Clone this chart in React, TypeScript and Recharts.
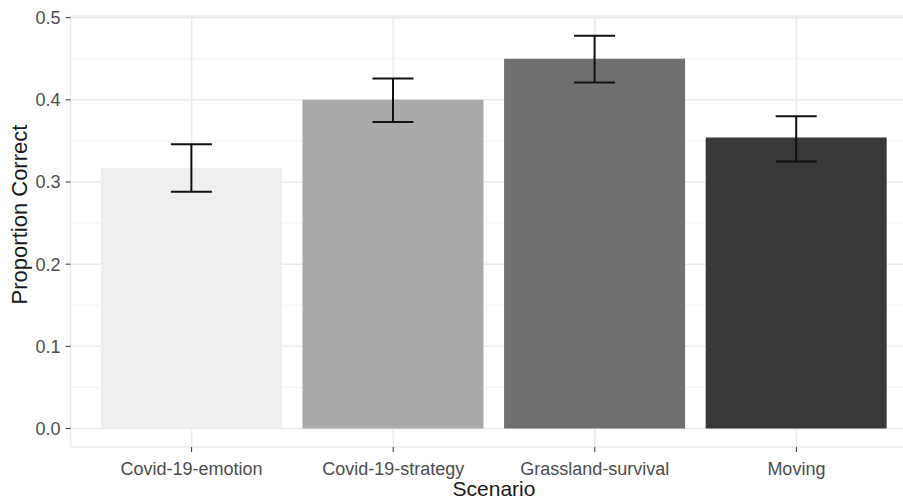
import React from 'react';
import { BarChart, Bar, XAxis, YAxis, CartesianGrid, ErrorBar, Cell } from 'recharts';

const scenarios = ['Covid-19-emotion', 'Covid-19-strategy', 'Grassland-survival', 'Moving'];
const proportion = [0.317, 0.4, 0.45, 0.354];
const lower = [0.288, 0.373, 0.421, 0.325];
const upper = [0.346, 0.426, 0.478, 0.38];
const fills = ['#efefef', '#aaaaaa', '#707070', '#393939'];
const yTicks = [0, 0.1, 0.2, 0.3, 0.4, 0.5];
const minorTicks = [0.05, 0.15, 0.25, 0.35, 0.45];

const data = scenarios.map((s, i) => ({
  scenario: s,
  value: proportion[i],
  err: [proportion[i] - lower[i], upper[i] - proportion[i]],
}));

const font = '"Liberation Sans", Arial, sans-serif';

const YTitle = (props: any) => {
  const { viewBox } = props;
  const x = viewBox.x + 27;
  const y = viewBox.y + viewBox.height / 2 - 17;
  return (
    <text x={x} y={y} transform={`rotate(-90, ${x}, ${y})`} textAnchor="middle" fontSize={22} fill="#1a1a1a" fontFamily={font}>
      Proportion Correct
    </text>
  );
};

export default function App() {
  return (
    <div style={{ position: 'absolute', left: 0, top: 0, width: 903, height: 501, overflow: 'hidden', background: '#fff' }}>
      <BarChart width={920} height={501} data={data} margin={{ top: 16, right: 2.6, bottom: 0, left: 0 }} barCategoryGap="5%">
        <CartesianGrid vertical={false} horizontalValues={minorTicks} stroke="#f3f3f3" strokeWidth={1} />
        <CartesianGrid stroke="#ebebeb" strokeWidth={1.5} />
        <XAxis
          dataKey="scenario"
          height={54}
          padding={{ left: 20.2, right: 20.2 }}
          axisLine={false}
          tickLine={{ stroke: '#333333' }}
          tickSize={5}
          tickMargin={10}
          tick={{ fontSize: 18, fill: '#4d4d4d', fontFamily: font }}
          interval={0}
          label={{ value: 'Scenario', position: 'insideBottom', offset: 5, fontSize: 21, fill: '#1a1a1a', fontFamily: font }}
        />
        <YAxis
          width={70.6}
          domain={[-0.0225, 0.502]}
          ticks={yTicks}
          tickFormatter={(v: number) => v.toFixed(1)}
          axisLine={false}
          tickLine={{ stroke: '#333333' }}
          tickSize={5}
          tickMargin={5}
          tick={{ fontSize: 18, fill: '#4d4d4d', fontFamily: font }}
          allowDataOverflow
          label={<YTitle />}
        />
        <Bar dataKey="value" isAnimationActive={false}>
          {data.map((d, i) => (
            <Cell key={d.scenario} fill={fills[i]} />
          ))}
          <ErrorBar dataKey="err" width={20.5} stroke="#111111" strokeWidth={2} isAnimationActive={false} />
        </Bar>
      </BarChart>
    </div>
  );
}
